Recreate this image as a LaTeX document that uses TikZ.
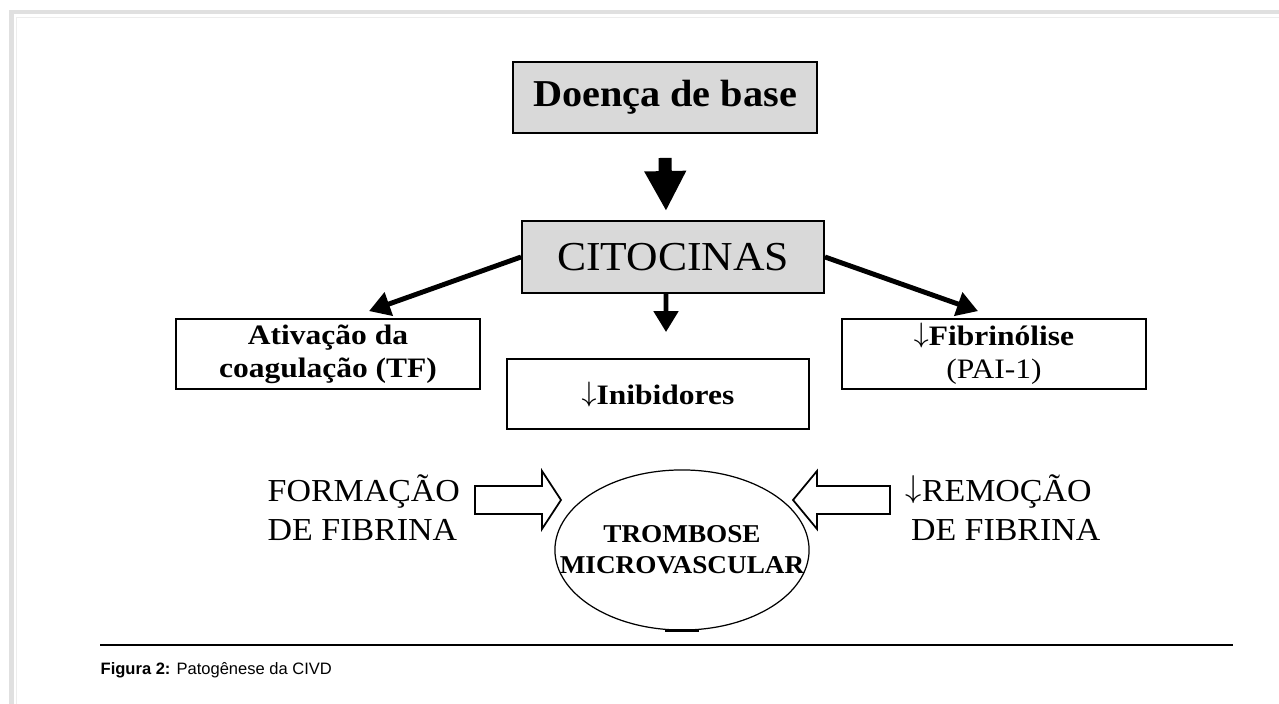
\documentclass[tikz,border=0pt]{standalone}
\usepackage{fontspec}
\setmainfont{Liberation Serif}
\newfontfamily\capfont{Liberation Sans}
\newfontfamily\diagfont[FakeStretch=1.06]{Liberation Serif}
\newfontfamily\boxfont[FakeStretch=1.12]{Liberation Serif}
\usetikzlibrary{arrows.meta,shapes.geometric}
\newcommand{\dn}{\raisebox{0.12em}{$\downarrow$}}

\begin{document}
\begin{tikzpicture}[x=0.01cm,y=-0.01cm,
  shadebox/.style={draw, line width=0.5pt, fill=black!15, inner sep=0pt},
  plainbox/.style={draw, line width=0.5pt, fill=white, inner sep=0pt, align=center,
    minimum width=3.04cm, minimum height=0.70cm,
    font=\boxfont\bfseries\fontsize{8}{9.4}\selectfont},
  thinarrow/.style={line width=1.4pt, -{Triangle[length=0.21cm,width=0.24cm]}},
  bigarrow/.style={line width=0.13cm, -{Triangle[length=0.4cm,width=0.39cm]}},
  hollow/.style={draw, line width=0.5pt, fill=white, line join=miter}]
  \useasboundingbox (0,0) rectangle (1279,704);
  \fill[white] (0,0) rectangle (1279,704);
  % page frame
  \fill[black!12] (9,10) rectangle (1279,704);
  \fill[white] (14,14) rectangle (1279,704);
  \draw[black!7, line width=0.3pt] (16.5,704) |- (1279,17.5);

  \node [shadebox, minimum width=3.04cm, minimum height=0.71cm,
    font=\diagfont\bfseries\fontsize{10.8}{12}\selectfont] (doenca) at (665,97.5) {Doença de base};
  \node [shadebox, minimum width=3.02cm, minimum height=0.72cm,
    font=\diagfont\fontsize{11.7}{13}\selectfont] (cito) at (673,257) {CITOCINAS};

  \node [plainbox] (ativ) at (328,354) {Ativação da\\coagulação (TF)};
  \node [plainbox, minimum width=3.02cm] (inib) at (658,394) {\dn Inibidores};
  \node [plainbox] (fibr) at (994,354) {\dn Fibrinólise\\\mdseries(PAI-1)};

  \draw [bigarrow] ([yshift=-0.24cm]doenca.south) -- ([xshift=-0.07cm,yshift=0.09cm]cito.north);
  \draw [thinarrow] (cito.west) -- ([xshift=0.41cm,yshift=0.07cm]ativ.north);
  \draw [thinarrow] (cito.east) -- ([xshift=-0.16cm,yshift=0.07cm]fibr.north);
  \draw [thinarrow] ([xshift=-0.07cm]cito.south) -- ([xshift=0.08cm,yshift=0.26cm]inib.north);

  \node [ellipse, draw, line width=0.35pt, inner sep=0pt,
    minimum width=2.54cm, minimum height=1.6cm] (tromb) at (682,550) {};
  \draw [line width=0.7pt] ([xshift=-0.17cm]tromb.south) -- ([xshift=0.17cm]tromb.south);
  \node [align=center, inner sep=0pt,
    font=\diagfont\bfseries\fontsize{7.3}{8.8}\selectfont] (trombtxt) at (tromb.center) {TROMBOSE\\MICROVASCULAR};

  \node [anchor=west, align=left, inner sep=0pt,
    font=\diagfont\fontsize{9.1}{11.1}\selectfont] (formacao) at (267,508) {FORMAÇÃO\\DE FIBRINA};
  \node [anchor=west, align=left, inner sep=0pt,
    font=\diagfont\fontsize{9.1}{11.1}\selectfont] (remocao) at (905,508) {\dn REMOÇÃO\\\,DE FIBRINA};

  % hollow arrows
  \draw [hollow] (475,486) -- (542,486) -- (542,471) -- (561,500) -- (542,529) -- (542,514) -- (475,514) -- cycle;
  \draw [hollow] (890,486) -- (817,486) -- (817,471) -- (793,500) -- (817,529) -- (817,514) -- (890,514) -- cycle;

  \draw [line width=0.45pt] (100,645) -- (1233,645);
  \node [anchor=base west, inner sep=0pt, font=\capfont\fontsize{4.7}{5.6}\selectfont] (legenda) at (100,675)
    {\textbf{Figura 2:} Patogênese da CIVD};
\end{tikzpicture}
\end{document}
